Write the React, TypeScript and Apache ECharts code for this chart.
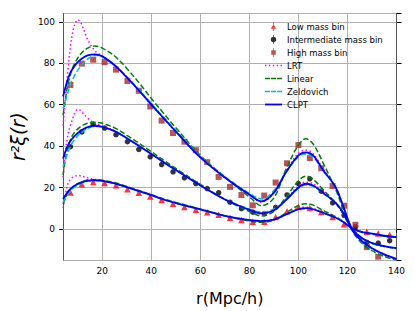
import React, { useEffect, useRef } from "react";
import * as echarts from "echarts";

// model grid r (Mpc/h)
const R = [4, 5, 6, 7, 8, 9, 10, 11, 12, 14, 17, 20, 25, 30, 35, 40, 45, 50, 60, 70, 80, 85, 90, 95, 100, 103, 106, 110, 115, 118, 122, 126, 130, 135, 140];

// LRT
const lrtHigh = [50, 64, 77, 88, 95.5, 99.5, 101, 100, 97.5, 91.5, 86, 83.5, 79, 73.2, 66.8, 60, 53.5, 47, 34.5, 24.8, 16.5, 13, 17.5, 28, 36.5, 38, 36.3, 29, 20.5, 11.8, -0.5, -6, -9.3, -12.3, -14.5];
const lrtInt = [25, 38, 45.5, 50, 53.5, 56.5, 57.7, 57.3, 56, 53.5, 51, 49.8, 47.4, 43.9, 40.1, 36.3, 32.3, 28.5, 21.1, 14.3, 9.2, 7.3, 9, 14.5, 20.8, 22.6, 21.8, 18, 12.8, 8.3, 0, -4.5, -6.8, -8.3, -9.3];
const lrtLow = [10, 17, 22, 24, 25, 25.5, 25.8, 25.7, 25.4, 24.7, 23.9, 23.3, 22, 20.2, 18.2, 16.3, 14.2, 12.5, 9.4, 6.3, 4.2, 3.7, 4.6, 7.3, 10, 10.5, 10, 8.1, 5.6, 3.6, 0.2, -1.5, -2.3, -3.3, -4];

// Linear
const linHigh = [55, 63, 70, 74.5, 78, 80.5, 82.5, 84.2, 85.5, 87.3, 88.3, 87.3, 83.5, 77.5, 70.5, 63, 55.8, 48.8, 35.5, 25, 15.5, 11.2, 15, 29, 40.5, 43.5, 41, 32, 19.5, 10.5, -1, -7, -10.5, -13.3, -15];
const linInt = [26, 34, 39.5, 43, 45.5, 47, 48.3, 49.3, 50, 51, 51.5, 51, 48.8, 45.2, 41.3, 37.3, 33.2, 29.2, 21.5, 14.3, 8.4, 6.3, 8.5, 15.5, 23.2, 25.5, 24, 19, 12.8, 7.6, -0.5, -4.8, -7, -8.5, -9.4];
const linLow = [12, 15, 17.5, 19.2, 20.5, 21.3, 22, 22.5, 23, 23.6, 23.8, 23.5, 22.3, 20.5, 18.5, 16.5, 14.5, 12.8, 9.6, 6.3, 3.8, 3.2, 4.3, 7.8, 11.3, 12.2, 11.5, 9, 6, 3.8, 0.2, -1.6, -2.5, -3.5, -4];

// Zeldovich
const zelHigh = [58, 62, 66, 70, 72.5, 74.7, 76.7, 78.3, 79.7, 82, 83.8, 83.3, 79.2, 73.5, 67.2, 60.5, 54, 47.5, 35, 25.2, 17.2, 14.5, 18.5, 27.5, 34.8, 36.2, 34.8, 28.2, 20.5, 12, -0.3, -6.2, -9.5, -12.5, -14.5];
const zelInt = [30, 33.5, 37, 40, 42, 43.6, 45, 46.1, 47, 48.5, 49.5, 49.2, 47.2, 43.8, 40, 36.2, 32.2, 28.4, 21, 14.3, 9.6, 8.2, 9.6, 14, 19.6, 21.2, 20.6, 17.3, 12.8, 8.5, -0.2, -4.6, -6.9, -8.4, -9.4];
const zelLow = [13, 15, 16.8, 18.2, 19.5, 20.4, 21.2, 21.8, 22.3, 23, 23.4, 23.2, 22, 20.2, 18.2, 16.3, 14.2, 12.5, 9.4, 6.3, 4.3, 4, 4.6, 7, 9.4, 9.8, 9.4, 7.8, 5.5, 3.6, 0.2, -1.5, -2.3, -3.3, -4];

// CLPT
const clptHigh = [64, 68.5, 72.5, 75.5, 77.5, 79.2, 80.5, 81.6, 82.5, 83.8, 84.3, 83.3, 79, 73.2, 66.8, 60, 53.5, 47, 34.5, 24.8, 16.6, 13.3, 17.5, 27.5, 35.5, 37, 35.5, 28.5, 20.5, 11.8, -0.5, -6, -9.3, -12.3, -14.5];
const clptInt = [34, 37.5, 40.5, 42.5, 44, 45.2, 46.3, 47.2, 48, 49.2, 49.8, 49.3, 47.2, 43.8, 40, 36.2, 32.2, 28.4, 21, 14.2, 9.2, 7.5, 9, 14, 20, 21.8, 21, 17.5, 12.8, 8.3, -0.2, -4.5, -6.8, -8.3, -9.3];
const clptLow = [14.5, 16.3, 18, 19.2, 20.3, 21.1, 21.7, 22.2, 22.7, 23.3, 23.5, 23.2, 22, 20.2, 18.2, 16.3, 14.2, 12.5, 9.4, 6.3, 4.2, 3.8, 4.5, 7, 9.5, 10, 9.5, 7.8, 5.5, 3.6, 0.2, -1.5, -2.3, -3.3, -4];

// measured points
const XS = [7, 11.65, 16.3, 20.95, 25.6, 30.25, 34.9, 39.55, 44.2, 48.85, 53.5, 58.15, 62.8, 67.45, 72.1, 76.75, 81.4, 86.05, 90.7, 95.35, 100, 104.65, 109.3, 113.95, 118.6, 123.25, 127.9, 132.55, 137.2];
const lowPts = [17.6, 21.6, 22.7, 22.2, 21.1, 19.2, 17.5, 15.6, 14.0, 12.2, 10.6, 9.3, 8.0, 6.9, 5.4, 4.3, 3.5, 3.5, 5.8, 8.5, 10.6, 10.1, 8.2, 5.8, 2.2, 0.5, -1.4, -2.2, -2.8];
const intPts = [39.7, 46.8, 50.6, 48.7, 45.5, 42.1, 38.4, 34.8, 31.1, 27.6, 24.7, 21.9, 19.5, 17.5, 12.9, 9.8, 8.1, 7.4, 10.4, 16.4, 21.9, 24.2, 18.2, 12.6, 6.6, 1.0, -6.5, -6.8, -5.7];
const highPts = [69.5, 79.8, 81.7, 80.5, 76.9, 71.4, 66.7, 59.1, 52.3, 46.3, 42.1, 38.0, 32.2, 25.1, 20.3, 16.4, 11.4, 16.1, 22.4, 31.7, 40.5, 34.2, 29.3, 20.7, 11.2, 2.0, -8.8, -13.4, null];

// axis extents and grid-line values
const X_MIN = 4;
const X_MAX = 140;
const Y_MIN = -15;
const Y_MAX = 104;
const X_GRID = [20, 40, 60, 80, 100, 120];
const Y_GRID = [0, 20, 40, 60, 80, 100];

const FONT = "DejaVu Sans";
const BAR = "M2.6,0L3.4,0L3.4,10L2.6,10Z ";
const ICON_TRI = "path://" + BAR + "M0,7.5L3,2.5L6,7.5Z";
const ICON_CIR = "path://" + BAR + "M0,5A3,3,0,1,1,6,5A3,3,0,1,1,0,5Z";
const ICON_SQ = "path://" + BAR + "M0.5,2.5L5.5,2.5L5.5,7.5L0.5,7.5Z";
const ICON_DOT = "path://M0,0h1.5v1.5h-1.5Z M3.9,0h1.5v1.5h-1.5Z M7.8,0h1.5v1.5h-1.5Z M11.7,0h1.5v1.5h-1.5Z M15.5,0h1.5v1.5h-1.5Z";
const ICON_DASH = "path://M0,0h5v1.5h-5Z M6,0h5v1.5h-5Z M12,0h5v1.5h-5Z";
const ICON_SOLID = "path://M0,0h17v1.8h-17Z";

function pts(ys: (number | null)[]) {
  const out: number[][] = [];
  ys.forEach((y, i) => {
    if (y !== null) out.push([XS[i], y]);
  });
  return out;
}

function curve(name: string, ys: number[], color: string, type: any, width: number, z: number) {
  return {
    name,
    type: "line",
    data: R.map((r, i) => [r, ys[i]]),
    smooth: 0.35,
    symbol: "none",
    showSymbol: false,
    lineStyle: { color, type, width },
    itemStyle: { color },
    z,
  };
}

export default function App() {
  const ref = useRef<HTMLDivElement>(null);
  useEffect(() => {
    if (!ref.current) return;
    const chart = echarts.init(ref.current, undefined, { renderer: "svg" });
    const DOT = [1.5, 2.5];
    const DASH = [5.5, 2.4];
    const tickStyle = { color: "#000", width: 1 };
    const spine = { show: true, lineStyle: { color: "#555", width: 1 } };
    const GRID_COLOR = "#b0b0b0";
    chart.setOption({
      animation: false,
      grid: {
        left: 62,
        right: 18.5,
        top: 13.5,
        bottom: 46.5,
      },
      legend: {
        orient: "vertical",
        left: 260,
        top: 17,
        itemWidth: 17,
        itemHeight: 9,
        itemGap: 4,
        textStyle: { fontSize: 8.5, fontFamily: FONT, color: "#000", lineHeight: 9 },
        data: [
          { name: "Low mass bin", icon: ICON_TRI },
          { name: "Intermediate mass bin", icon: ICON_CIR },
          { name: "High mass bin", icon: ICON_SQ },
          { name: "LRT", icon: ICON_DOT },
          { name: "Linear", icon: ICON_DASH },
          { name: "Zeldovich", icon: ICON_DASH },
          { name: "CLPT", icon: ICON_SOLID },
        ],
      },
      xAxis: [
        {
          type: "value",
          min: X_MIN,
          max: X_MAX,
          splitNumber: 7,
          position: "bottom",
          name: "r(Mpc/h)",
          nameLocation: "middle",
          nameGap: 30,
          nameTextStyle: { fontSize: 16, fontFamily: FONT, color: "#000" },
          axisLine: spine,
          axisTick: { show: true, inside: false, length: 4, lineStyle: tickStyle },
          axisLabel: { fontSize: 9, fontFamily: FONT, color: "#000", margin: 6, showMinLabel: false },
          splitLine: { show: true, lineStyle: { color: GRID_COLOR, width: 1 } },
        },
        {
          type: "value",
          min: X_MIN,
          max: X_MAX,
          splitNumber: 7,
          position: "top",
          axisLine: spine,
          axisTick: { show: false },
          axisLabel: { show: false },
          splitLine: { show: false },
        },
      ],
      yAxis: [
        {
          type: "value",
          min: Y_MIN,
          max: Y_MAX,
          splitNumber: 6,
          position: "left",
          name: "r²ξ(r)",
          nameLocation: "middle",
          nameGap: 36,
          nameTextStyle: { fontSize: 19, fontFamily: FONT, fontStyle: "italic", color: "#000" },
          axisLine: spine,
          axisTick: { show: true, inside: false, length: 4, lineStyle: tickStyle },
          axisLabel: { fontSize: 9, fontFamily: FONT, color: "#000", margin: 8, showMinLabel: false, showMaxLabel: false },
          splitLine: { show: true, lineStyle: { color: GRID_COLOR, width: 1 } },
        },
        {
          type: "value",
          min: Y_MIN,
          max: Y_MAX,
          splitNumber: 6,
          position: "right",
          axisLine: spine,
          axisTick: { show: true, inside: false, length: 5, lineStyle: tickStyle },
          axisLabel: { show: false },
          splitLine: { show: false },
        },
      ],
      series: [
        {
          name: "Low mass bin",
          type: "scatter",
          data: pts(lowPts),
          symbol: "triangle",
          symbolSize: 6.5,
          itemStyle: { color: "#ff0000" },
          z: 2,
          markLine: {
            silent: true,
            symbol: ["none", "none"],
            label: { show: false },
            emphasis: { disabled: true },
            lineStyle: { color: GRID_COLOR, width: 1, type: "solid" },
            z: 1,
            data: [...X_GRID.map((v) => ({ xAxis: v })), ...Y_GRID.map((v) => ({ yAxis: v }))],
          },
        },
        {
          name: "Intermediate mass bin",
          type: "scatter",
          data: pts(intPts),
          symbol: "circle",
          symbolSize: 5.5,
          itemStyle: { color: "#000000" },
          z: 2,
        },
        {
          name: "High mass bin",
          type: "scatter",
          data: pts(highPts),
          symbol: "rect",
          symbolSize: 6,
          itemStyle: { color: "#a52a2a" },
          z: 2,
        },
        curve("LRT", lrtHigh, "#ff00ff", DOT, 1.5, 3),
        curve("LRT", lrtInt, "#ff00ff", DOT, 1.5, 3),
        curve("LRT", lrtLow, "#ff00ff", DOT, 1.5, 3),
        curve("Linear", linHigh, "#008000", DASH, 1.5, 4),
        curve("Linear", linInt, "#008000", DASH, 1.5, 4),
        curve("Linear", linLow, "#008000", DASH, 1.5, 4),
        curve("Zeldovich", zelHigh, "#00bfbf", DASH, 1.5, 5),
        curve("Zeldovich", zelInt, "#00bfbf", DASH, 1.5, 5),
        curve("Zeldovich", zelLow, "#00bfbf", DASH, 1.5, 5),
        curve("CLPT", clptHigh, "#0000ff", "solid", 1.8, 6),
        curve("CLPT", clptInt, "#0000ff", "solid", 1.8, 6),
        curve("CLPT", clptLow, "#0000ff", "solid", 1.8, 6),
      ],
    });
    return () => chart.dispose();
  }, []);
  return <div ref={ref} style={{ width: 415, height: 311, position: "absolute", left: 0, top: 0 }} />;
}
